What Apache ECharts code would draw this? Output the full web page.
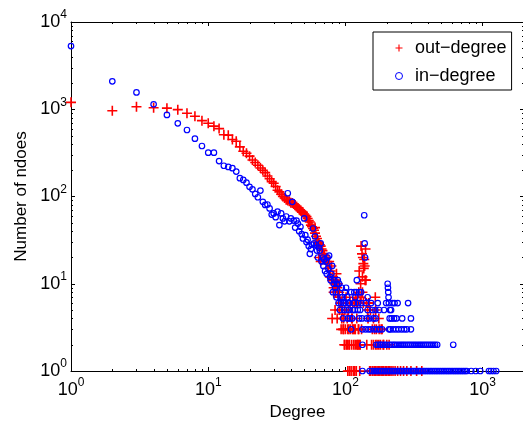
<!DOCTYPE html>
<html>
<head>
<meta charset="utf-8">
<script src="https://cdn.jsdelivr.net/npm/echarts@6/dist/echarts.min.js"></script>
<style>
html, body { margin: 0; padding: 0; background: #fff; }
#chart-box { width: 523px; height: 421px; }
</style>
</head>
<body>
<div id="chart-box"></div>
<script>
// [degree, number of nodes]
var outDegree = [
  [1,1200],[2,960],[3,1070],[4,1040],[5,1030],[6,990],[7,900],[8,830],[9,740],[10,690],
  [11,640],[12,600],[13,510],[14,505],[15,450],[16,430],[17,370],[18,330],[19,313],[20,290],
  [21,262],[22,245],[23,228],[24,212],[25,200],[26,188],[27,172],[28,160],[29,148],[30,142],
  [31,130],[32,118],[33,113],[34,106],[35,100],[36,96],[37,92],[38,90],[39,88],[40,85],
  [41,84],[42,82],[43,80],[44,77],[45,74],[46,71],[47,69],[48,67],[49,66],[50,63],
  [51,61],[52,59],[53,56],[54,53],[55,51],[56,47],[57,45],[58,43],[59,41],[60,38],
  [61,35],[62,33],[63,30],[64,29],[65,28],[66,27],[67,25],[68,24],[69,22],[70,21],
  [71,19],[72,20],[73,18],[74,17],[75,15],[76,18],[77,12],[78,14],
  [60,44],[64,20],[66,18],
  [79,16],[80,11],[81,12],[82,9],[83,10],[84,11],[85,8],[86,13],[87,9],[88,8],[89,7],[90,8],
  [91,5],[92,6],[93,6],[94,4],[95,5],[96,3],[97,4],[98,2],[99,5],[100,3],[101,7],[102,2],
  [103,4],[104,3],[105,5],[106,2],[107,2],[108,6],[109,3],[110,1],[111,2],[112,4],[113,3],
  [114,1],[115,2],[116,6],[117,3],[118,2],[119,7],[120,1],[121,4],[122,6],[123,2],[124,3],
  [125,3],[126,14],[127,1],[128,2],[129,10],[130,27],[131,3],[132,22],[133,12],[134,20],
  [135,17],[136,15],[137,19],[138,16],[139,11],[140,25],[141,11],[142,6],[143,2],[145,5],
  [146,4],[148,6],[152,5],[155,2],[157,3],[160,4],[165,7],[166,5],[168,3],[170,2],[175,4],
  [180,2],[182,3],[188,2],
  [80,4],[82,8],[84,5],[85,10],[87,4],[88,10],[90,5],[93,3],[97,3],[99,2],[103,2],[106,3],
  [111,4],[113,6],[114,3],[118,3],[120,6],[121,2],[124,2],[125,8],[127,2],[128,6],[130,7],
  [133,8],[135,6],[149,6],[163,3],[176,3],[185,3],[160,2],[166,2],[175,2],[190,2],[200,2],[208,2],
  [104,1],[107,1],[117,1],[150,1],[153,1],[158,1],[162,1],[166,1],[170,1],
  [174,1],[178,1],[182,1],[186,1],[190,1],[195,1],[200,1],[205,1],[210,1],[215,1],[222,1],
  [230,1],[240,1],[252,1],[265,1],[280,1],[300,1],[330,1],[360,1]
]

var inDegree = [
  [1,5300],[2,2090],[3,1560],[4,1140],[5,860],[6,690],[7,578],[8,460],[9,379],[10,318],
  [11,318],[12,255],[13,225],[14,218],[15,211],[16,193],[17,162],[18,155],[19,144],[20,129],
  [21,121],[22,107],[23,98],[24,117],[25,87],[26,80],[27,81],[28,73],[29,62],[30,64],
  [31,58],[32,67],[33,47],[34,64],[35,56],[36,52],[37,59],[38,109],[39,52],[40,56],
  [41,87],[42,53],[43,44],[44,53],[45,49],[46,40],[47,45],[48,37],[49,33],[50,56],
  [51,36],[52,30],[53,32],[54,27],[55,22],[56,25],[57,28],[58,43],[59,29],[60,35],
  [61,28],[62,24],[63,20],[64,26],[65,24],[66,29],[67,18],[68,20],[69,16],[70,19],
  [71,14],[72,18],[73,13],[74,20],[75,15],[76,21],[77,12],[78,11],[79,13],[80,16],
  [81,8],[82,10],[83,11],[84,9],[85,8],[86,7],[87,10],[88,11],[89,6],[90,10],
  [91,5],[92,7],[93,6],[94,9],[95,7],[96,4],[97,6],[98,5],[99,8],[100,6],
  [101,9],[102,5],[103,7],[104,4],[105,6],[106,5],[107,6],[108,4],[110,8],[110,3],
  [112,4],[113,5],[115,6],[116,8],[117,5],[118,7],[120,8],[121,11],[123,5],[124,6],
  [126,8],[126,4],[128,5],[130,8],[130,6],[132,4],[133,3],[133,2],[133,1],
  [137,61],[138,29],[139,20],[140,3],[141,6],[143,4],[145,7],[145,5],[147,3],[149,4],
  [153,3],[154,6],[157,5],[160,4],[162,3],[165,5],[166,4],[168,2],[170,3],[172,6],
  [176,5],[178,3],[180,2],[185,3],[187,2],[191,5],[193,2],[198,6],[200,2],[203,10],
  [204,9],[205,8],[206,7],[207,6],[208,3],[210,4],[211,5],[212,3],[215,5],[217,4],[220,6],
  [222,3],[226,4],[228,6],[230,2],[233,3],[235,4],[240,6],[244,3],[256,3],[259,4],[262,2],
  [268,3],[280,3],[286,6],[300,3],[300,4],
  [173,2],[179,2],[210,2],[217,2],[224,2],[238,2],[246,2],[254,2],[270,2],[279,2],
  [288,2],[297,2],[307,2],[317,2],[327,2],[338,2],[349,2],[360,2],[372,2],[384,2],
  [396,2],[409,2],[422,2],[436,2],[450,2],[466,2],[610,2],
  [150,1],[156,1],[161,1],[167,1],[172,1],[178,1],[183,1],[189,1],[194,1],[200,1],
  [206,1],[212,1],[218,1],[224,1],[231,1],[238,1],[245,1],[252,1],[259,1],[267,1],
  [275,1],[283,1],[291,1],[300,1],[309,1],[318,1],[327,1],[337,1],[347,1],[357,1],
  [368,1],[379,1],[390,1],[402,1],[414,1],[426,1],[439,1],[452,1],[465,1],[479,1],
  [493,1],[508,1],[523,1],[539,1],[555,1],[571,1],[588,1],[606,1],[624,1],[642,1],
  [661,1],[681,1],[701,1],[722,1],[744,1],[766,1],[825,1],[890,1],[960,1],[1110,1],
  [1150,1],[1200,1],[1254,1]
]

var seriesNames = ['out\u2212degree', 'in\u2212degree']
var xRange = [1, 2000]
var yRange = [1, 10000]

var FONT = '"Liberation Sans", Arial, Helvetica, sans-serif'
// "+" marker, matlab style
var PLUS = 'path://M0,4.2H10V5.8H0Z M4.2,0H5.8V10H4.2Z'

function powLabel(v) {
  var l = Math.log10(v)
  var e = Math.round(l)
  if (Math.abs(l - e) > 1e-6) return ''
  return '{b|10}{s|' + e + '}'
}

var richPow = {
  b: { fontSize: 18, lineHeight: 22, verticalAlign: 'bottom', fontFamily: FONT, color: '#000' },
  s: { fontSize: 12, lineHeight: 12, verticalAlign: 'top', fontFamily: FONT, color: '#000' }
}

function logAxis(pos, range, showLabel) {
  return {
    type: 'log',
    position: pos,
    min: range[0],
    max: range[1],
    splitLine: { show: false },
    axisLine: { show: true, onZero: false, lineStyle: { color: '#000', width: 1 } },
    axisTick: { show: true, inside: true, length: 4, lineStyle: { color: '#000' } },
    axisLabel: showLabel ? {
      show: true,
      formatter: powLabel,
      rich: richPow,
      showMaxLabel: true,
      showMinLabel: true
    } : { show: false }
  }
}

var chartDom = document.getElementById('chart-box')
var myChart = echarts.init(chartDom)

var xBottom = logAxis('bottom', xRange, true)
xBottom.axisLabel.margin = 6
xBottom.name = 'Degree'
xBottom.nameLocation = 'middle'
xBottom.nameGap = 31
xBottom.nameTextStyle = { fontSize: 17, fontFamily: FONT, color: '#000' }

var yLeft = logAxis('left', yRange, true)
yLeft.axisLabel.margin = 4
yLeft.axisLabel.padding = [0, 0, 4, 0]
yLeft.name = 'Number of ndoes'
yLeft.nameLocation = 'middle'
yLeft.nameGap = 30
yLeft.nameTextStyle = { fontSize: 17, fontFamily: FONT, color: '#000' }

var option = {
  animation: false,
  backgroundColor: '#fff',
  grid: { left: 71, top: 22, right: -1, bottom: 50, containLabel: false, outerBoundsMode: 'none' },
  xAxis: [xBottom, logAxis('top', xRange, false)],
  yAxis: [yLeft, logAxis('right', yRange, false)],
  legend: {
    orient: 'vertical',
    left: 373,
    top: 32,
    padding: [7, 5, 5, 22],
    itemGap: 10,
    itemWidth: 22,
    itemHeight: 7,
    backgroundColor: '#fff',
    borderColor: '#000',
    borderWidth: 1,
    borderRadius: 0,
    selectedMode: false,
    textStyle: { fontSize: 18, lineHeight: 18, fontFamily: FONT, color: '#000' },
    data: [
      { name: seriesNames[0], icon: PLUS, itemStyle: { color: '#ff0000', borderWidth: 0 } },
      { name: seriesNames[1], icon: 'circle',
        itemStyle: { color: 'rgba(0,0,0,0)', borderColor: '#0000ff', borderWidth: 1 } }
    ]
  },
  series: [
    {
      name: seriesNames[0],
      type: 'scatter',
      clip: false,
      silent: true,
      symbol: PLUS,
      symbolSize: 10,
      itemStyle: { color: '#ff0000', opacity: 1 },
      data: outDegree
    },
    {
      name: seriesNames[1],
      type: 'scatter',
      clip: false,
      silent: true,
      symbol: 'circle',
      symbolSize: 5.5,
      itemStyle: { color: 'rgba(0,0,0,0)', borderColor: '#0000ff', borderWidth: 1.2, opacity: 1 },
      data: inDegree
    }
  ]
}
myChart.setOption(option)

// matlab style minor ticks (2..9 in each decade) on all four sides
function minorTicks() {
  var left = myChart.convertToPixel({ xAxisIndex: 0 }, xRange[0])
  var right = myChart.convertToPixel({ xAxisIndex: 0 }, xRange[1])
  var bottom = myChart.convertToPixel({ yAxisIndex: 0 }, yRange[0])
  var top = myChart.convertToPixel({ yAxisIndex: 0 }, yRange[1])
  var els = []
  var len = 2
  var st = { stroke: '#000', lineWidth: 1 }
  for (var d = 1; d < xRange[1]; d *= 10) {
    for (var k = 2; k <= 9; k++) {
      var v = k * d
      if (v >= xRange[1]) break
      var px = Math.round(myChart.convertToPixel({ xAxisIndex: 0 }, v)) + 0.5
      els.push({ type: 'line', silent: true, shape: { x1: px, y1: bottom, x2: px, y2: bottom - len }, style: st })
      els.push({ type: 'line', silent: true, shape: { x1: px, y1: top, x2: px, y2: top + len }, style: st })
    }
  }
  for (var d2 = 1; d2 < yRange[1]; d2 *= 10) {
    for (var k2 = 2; k2 <= 9; k2++) {
      var py = Math.round(myChart.convertToPixel({ yAxisIndex: 0 }, k2 * d2)) + 0.5
      els.push({ type: 'line', silent: true, shape: { x1: left, y1: py, x2: left + len, y2: py }, style: st })
      els.push({ type: 'line', silent: true, shape: { x1: right, y1: py, x2: right - len, y2: py }, style: st })
    }
  }
  myChart.setOption({ graphic: els })
}
minorTicks()
</script>
</body>
</html>
